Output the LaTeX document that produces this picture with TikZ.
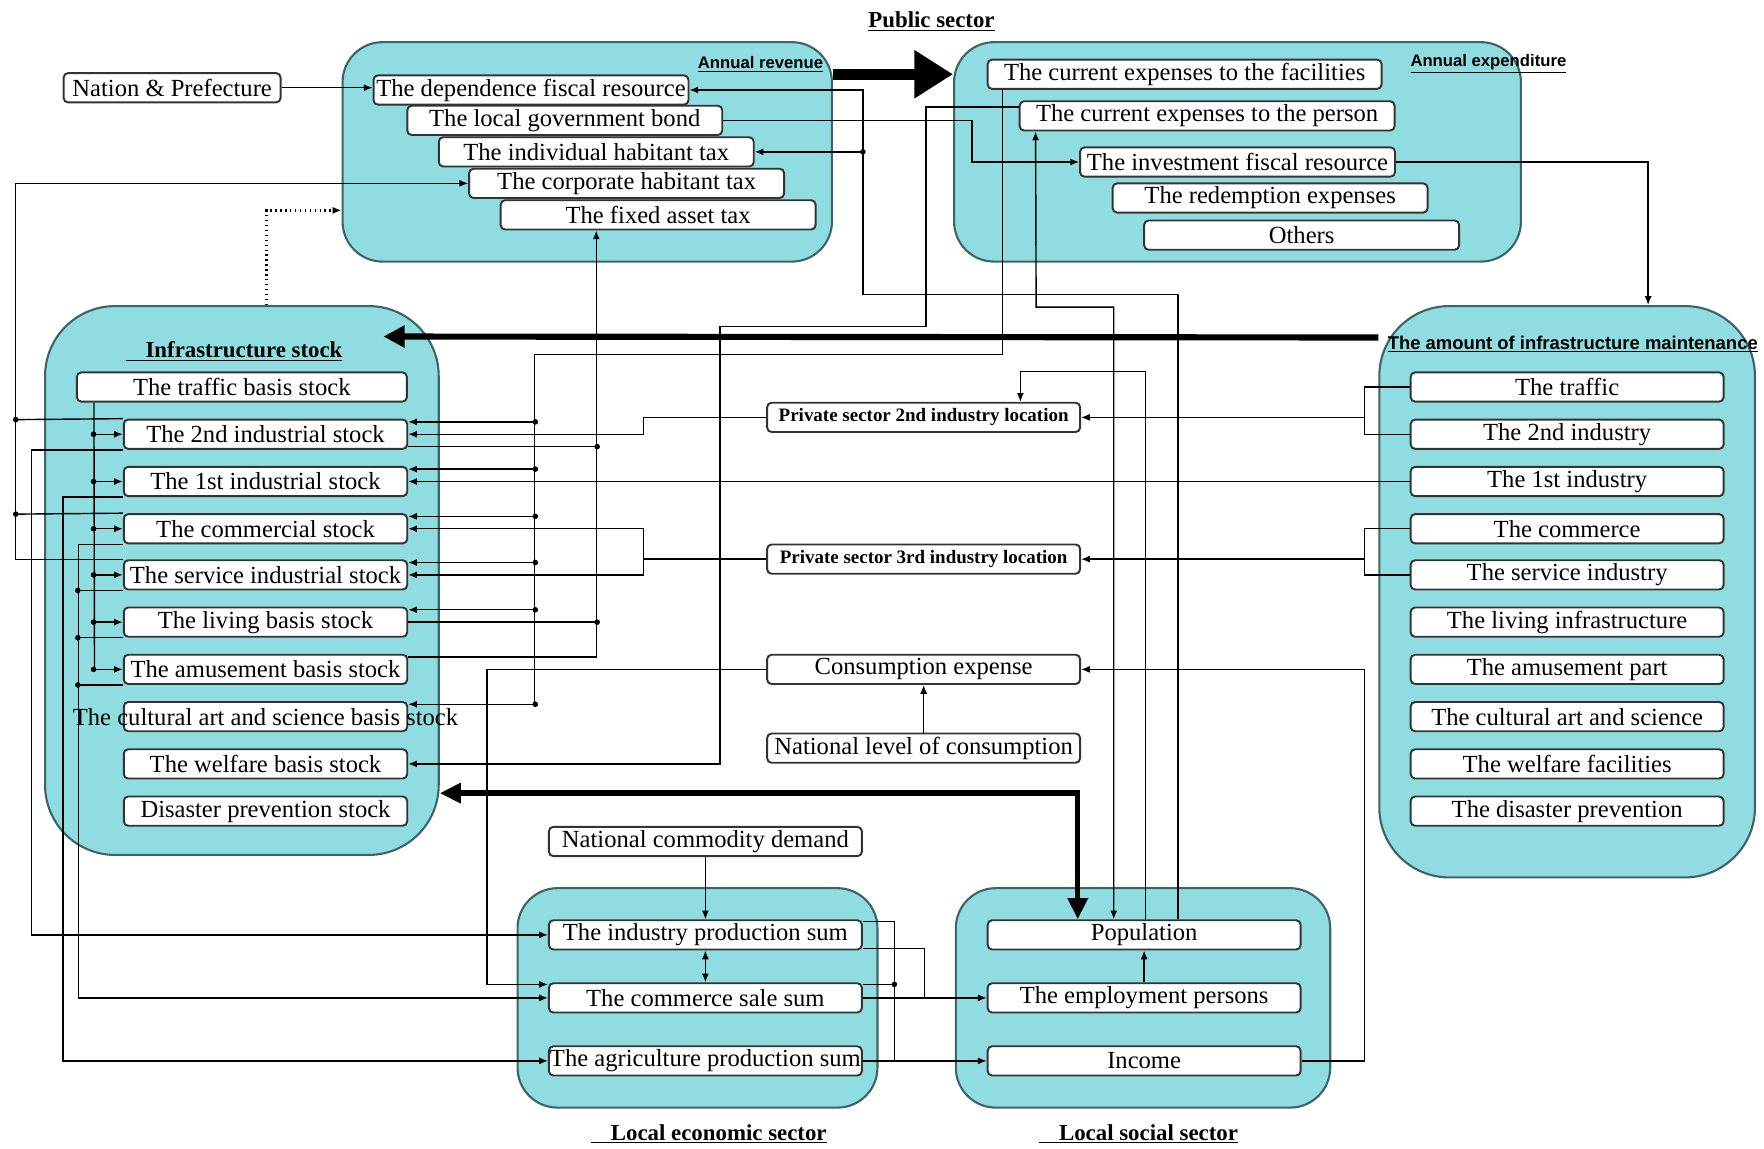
\documentclass[tikz,border=0pt]{standalone}
\usepackage{fontspec}
\setmainfont{Liberation Serif}
\setsansfont{Liberation Sans}
\usetikzlibrary{calc,arrows.meta}

\definecolor{panelfill}{RGB}{143,221,225}
\definecolor{panelline}{RGB}{62,100,104}

\begin{document}
\begin{tikzpicture}[x=0.0225cm, y=-0.0225cm,
  panel/.style={draw=panelline, fill=panelfill, line width=1.2pt, inner sep=0pt},
  item/.style={draw=black!80, fill=white, line width=1.1pt, rounded corners=2.5pt, inner sep=0pt,
    minimum width=6.3cm, minimum height=0.585cm, font=\fontsize{14}{16}\selectfont},
  stock/.style={item, minimum width=5.67cm},
  mbox/.style={item, minimum width=6.26cm},
  sector/.style={font=\fontsize{13}{15}\selectfont\bfseries},
  tag/.style={font=\fontsize{9.5}{11}\selectfont\sffamily\bfseries},
  arr/.style={-{Latex[length=5pt,width=4pt]}, line width=0.8pt},
  both/.style={{Latex[length=5pt,width=4pt]}-{Latex[length=5pt,width=4pt]}, line width=0.8pt},
  link/.style={line width=0.8pt}]

  \useasboundingbox (0,0) rectangle (1568,1021);

  % Sector panels
  \node[panel, rounded corners=0.8cm, minimum width=9.79cm, minimum height=4.39cm] (pubrev) at (522,135) {};
  \node[panel, rounded corners=0.8cm, minimum width=11.34cm, minimum height=4.39cm] (pubexp) at (1100,135) {};
  \node[panel, rounded corners=1.4cm, minimum width=7.875cm, minimum height=10.98cm] (infra) at (215,516) {};
  \node[panel, rounded corners=1.4cm, minimum width=7.515cm, minimum height=11.43cm] (maint) at (1393,526) {};
  \node[panel, rounded corners=0.8cm, minimum width=7.2cm, minimum height=4.39cm] (econ) at (620,887) {};
  \node[panel, rounded corners=0.8cm, minimum width=7.49cm, minimum height=4.39cm] (social) at (1016,887) {};

  % Titles
  \node[sector] (ps) at (828,19) {\underline{Public sector}};
  \node[sector] (ist) at (208,312) {\underline{\hspace{0.4cm}Infrastructure stock}};
  \node[sector] (les) at (630,1008) {\underline{\hspace{0.4cm}Local economic sector}};
  \node[sector] (lss) at (1012,1008) {\underline{\hspace{0.4cm}Local social sector}};
  \node[tag] (arev) at (676,57) {\underline{Annual revenue}};
  \node[tag] (aexp) at (1323,57) {\underline{Annual expenditure}};
  \node[tag, font=\fontsize{10.5}{12}\selectfont\sffamily\bfseries] (amnt) at (1398,306) {\underline{The amount of infrastructure maintenance}};

  % Public sector
  \node[item, minimum width=4.34cm] (nat) at (153,78) {Nation \& Prefecture};
  \node[item] (rv1) at (472,80) {The dependence fiscal resource};
  \node[item] (rv2) at (502,107) {The local government bond};
  \node[item] (rv3) at (530,135) {The individual habitant tax};
  \node[item] (rv4) at (557,163) {The corporate habitant tax};
  \node[item] (rv5) at (585,191) {The fixed asset tax};

  \node[item, minimum width=7.88cm] (ex1) at (1053,66) {The current expenses to the facilities};
  \node[item, minimum width=7.5cm] (ex2) at (1073,103) {The current expenses to the person};
  \node[item] (ex3) at (1100,144) {The investment fiscal resource};
  \node[item] (ex4) at (1129,176) {The redemption expenses};
  \node[item] (ex5) at (1157,209) {Others};

  % Infrastructure stock
  \node[stock, minimum width=6.6cm] (st1) at (215,344) {The traffic basis stock};
  \foreach \n/\y/\t in {2/386/The 2nd industrial stock, 3/428/The 1st industrial stock,
      4/470/The commercial stock, 5/511/The service industrial stock, 6/553/The living basis stock,
      7/595/The amusement basis stock, 8/637/\makebox[0pt]{The cultural art and science basis stock},
      9/679/The welfare basis stock, 10/721/Disaster prevention stock}
    \node[stock] (st\n) at (236,\y) {\t};

  % Infrastructure maintenance
  \foreach \n/\y/\t in {1/344/The traffic, 2/386/The 2nd industry, 3/428/The 1st industry,
      4/470/The commerce, 5/511/The service industry, 6/553/The living infrastructure,
      7/595/The amusement part, 8/637/The cultural art and science,
      9/679/The welfare facilities, 10/721/The disaster prevention}
    \node[mbox] (mt\n) at (1393,\y) {\t};

  % Middle column
  \node[mbox, font=\fontsize{10.8}{12}\selectfont\bfseries] (p2) at (821,371) {Private sector 2nd industry location};
  \node[mbox, font=\fontsize{10.8}{12}\selectfont\bfseries] (p3) at (821,497) {Private sector 3rd industry location};
  \node[mbox] (ce) at (821,595) {Consumption expense};
  \node[mbox] (nlc) at (821,665) {National level of consumption};
  \node[mbox] (ncd) at (627,748) {National commodity demand};

  % Local sectors
  \node[mbox] (ip) at (627,831) {The industry production sum};
  \node[mbox] (cs) at (627,887) {The commerce sale sum};
  \node[mbox] (ap) at (627,943) {The agriculture production sum};
  \node[mbox] (pop) at (1017,831) {Population};
  \node[mbox] (emp) at (1017,887) {The employment persons};
  \node[mbox] (inc) at (1017,943) {Income};

  % Thick arrows
  \draw[-{Triangle[length=22pt,width=26pt]}, line width=6pt] (pubrev.east |- ex1) -- (pubexp.west |- ex1);
  \draw[-{Triangle[length=12pt,width=12pt]}, line width=3.5pt] (maint.west |- 0,300) -- ($(infra.north east)+(-50,28)$);
  \draw[{Triangle[length=12pt,width=11pt]}-{Triangle[length=12pt,width=11pt]}, line width=3pt]
    (infra.east |- 0,705) -| ($(pop.north)+(-59,0)$);

  % Revenue side
  \draw[arr] (nat.east) -- (nat.east -| rv1.west);
  \draw[arr, dotted, line width=1.3pt] ($(infra.north)+(22,0)$) |- ($(pubrev.west)+(0,52)$);
  \draw[arr] (rv2.east) -| (864,144) -- (ex3.west);
  \draw[arr] (ex3.east) -| ($(maint.north)+(72,0)$);
  \draw[arr] ($(pop.north)+(30,0)$) |- (767,262) |- (rv1.east);
  \draw[arr] (767,135) -- (rv3.east);
  \fill (767,135) circle (1.6pt);

  % Expenditure to stock
  \draw[link] ($(ex1.south west)+(14,0)$) |- (475,315) -- (475,626);
  \foreach \n in {2,3,4,5,6,8} {
    \draw[arr] ($(st\n.east)+(113,-11)$) -- ($(st\n.east)+(0,-11)$);
    \fill ($(st\n.east)+(113,-11)$) circle (1.6pt);
  }
  \draw[arr] ($(ex2.west)+(0,-8)$) -| (823,290) -| (640,679) -- (st9.east);
  \draw[both] ($(pop.north)+(-27,0)$) |- (921,273) -- ($(ex2.south west)+(15,0)$);

  % Stock to fixed asset tax
  \draw[arr] ($(st7.east)+(0,-11)$) -| ($(rv5.south)+(-55,0)$);
  \draw[link] ($(st2.east)+(0,11)$) -- ++(168,0);
  \draw[link] (st6.east) -- ++(168,0);
  \fill ($(st2.east)+(168,11)$) circle (1.6pt);
  \fill ($(st6.east)+(168,0)$) circle (1.6pt);

  % Location of industry
  \draw[arr] ($(pop.north)+(1,0)$) |- (907,330) -- ($(p2.north)+(86,0)$);
  \draw[link] (mt1.west) -| (1213,371) |- (mt2.west);
  \draw[arr] (1213,371) -- (p2.east);
  \draw[link] (mt4.west) -| (1213,497) |- (mt5.west);
  \draw[arr] (1213,497) -- (p3.east);
  \draw[arr] (mt3.west) -- (st3.east);
  \draw[arr] (p2.west) -| (572,386) -- (st2.east);
  \draw[arr] (p3.west) -- (572,497) |- (st4.east);
  \draw[arr] (572,497) |- (st5.east);

  % Consumption
  \draw[arr] (ce.west) -| (433,875) -- ($(cs.west)+(0,-12)$);
  \draw[arr] (nlc.north) -- (ce.south);
  \draw[arr] (inc.east) -| (1213,595) -- (ce.east);

  % Local economy and society
  \draw[arr] (ncd.south) -- (ip.north);
  \draw[both] (ip.south) -- (cs.north);
  \draw[arr] (emp.north) -- (pop.south);
  \draw[link] ($(ip.east)+(0,-12)$) -| (795,943);
  \draw[link] ($(cs.east)+(0,-12)$) -- (795,875);
  \fill (795,875) circle (1.6pt);
  \draw[link] ($(ip.east)+(0,12)$) -| (822,887);
  \draw[arr] (cs.east) -- (emp.west);
  \draw[arr] (ap.east) -- (inc.west);

  % Stock to taxes and production
  \draw[arr] (st5.north west) -| (14,163) -- (rv4.west);
  \draw[link] (st2.north west) -- (14,373);
  \draw[link] (st4.north west) -- (14,457);
  \fill (14,373) circle (1.6pt);
  \fill (14,457) circle (1.6pt);
  \draw[arr] (st2.south west) -| (28,831) -- (ip.west);
  \draw[arr] (st3.south west) -| (56,943) -- (ap.west);
  \draw[arr] (st4.south west) -| (70,887) -- (cs.west);
  \foreach \n in {5,6,7} {
    \draw[link] (st\n.south west) -- ++(-40,0);
    \fill ($(st\n.south west)+(-40,0)$) circle (1.6pt);
  }

  % Traffic stock to the others
  \draw[link] ($(st1.south west)+(16,0)$) -- (84,595);
  \foreach \n in {2,...,7} {
    \draw[arr] ($(st\n.west)+(-26,0)$) -- (st\n.west);
    \fill ($(st\n.west)+(-26,0)$) circle (1.6pt);
  }

\end{tikzpicture}
\end{document}
